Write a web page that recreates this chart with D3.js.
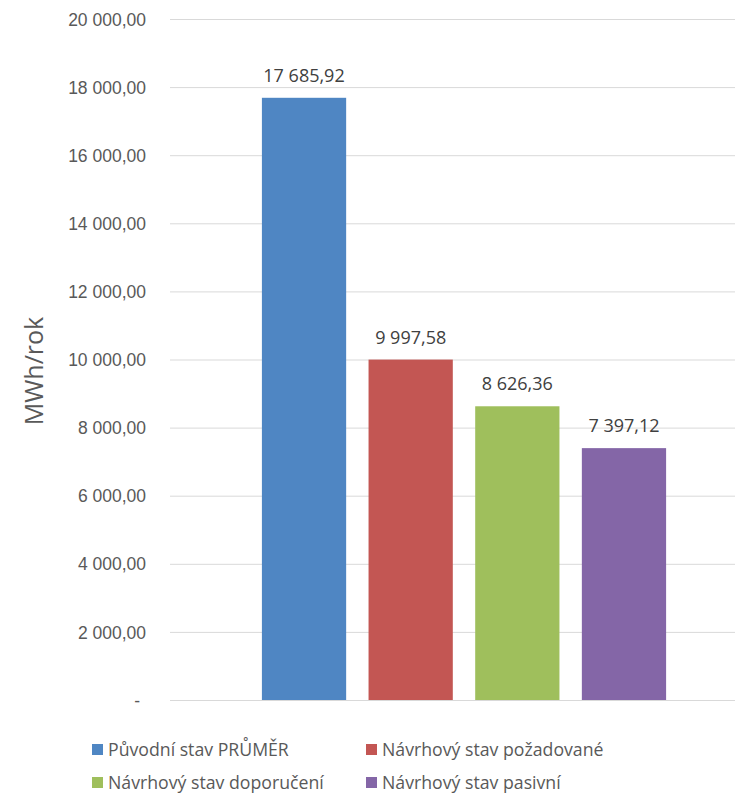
<!DOCTYPE html>
<html>
<head>
<meta charset="utf-8">
<script src="https://cdn.jsdelivr.net/npm/d3@7"></script>
<style>
  body { margin: 0; background: #fff; }
  svg { display: block; font-family: "Open Sans", sans-serif; }
</style>
</head>
<body>
<svg id="chart" width="735" height="798"></svg>
<script>
// Annual energy demand by building state
const series = ["Původní stav PRŮMĚR", "Návrhový stav požadované", "Návrhový stav doporučení", "Návrhový stav pasivní"];
const values = [17685.92, 9997.58, 8626.36, 7397.12];
const colors = ["#4f86c3", "#c35653", "#9fbf5c", "#8466a7"];
const yTicks = [0, 2000, 4000, 6000, 8000, 10000, 12000, 14000, 16000, 18000, 20000];
const yTitle = "MWh/rok";

const svg = d3.select("#chart");

const plotLeft = 170, plotRight = 735, plotTop = 19, plotBottom = 700;

const y = d3.scaleLinear().domain([0, 20000]).range([plotBottom, plotTop]);
const x = d3.scaleBand().domain(series).range([250.7, 677.3]).paddingInner(0.21).paddingOuter(0.105);

// Czech number format: space as thousands separator, comma decimal
const cz = d3.formatLocale({ decimal: ",", thousands: "\u00a0", grouping: [3], currency: ["", " Kč"] });
const fmt = cz.format(",.2f");
const tickFmt = v => v === 0 ? "-" : fmt(v);

// Gridlines and tick labels
const yAxis = d3.axisLeft(y).tickValues(yTicks).tickSize(-(plotRight - plotLeft)).tickPadding(24).tickFormat(tickFmt);
const gy = svg.append("g").attr("transform", `translate(${plotLeft},0)`).call(yAxis);
gy.select(".domain").remove();
gy.selectAll(".tick line").attr("stroke", "#d9d9d9").attr("stroke-width", 1);
gy.selectAll(".tick text").attr("fill", "#595959").style("font-size", "17.5px").attr("dy", "0.35em");
gy.selectAll(".tick text").filter(d => d === 0).attr("dx", "-6");

// Bars
svg.append("g").selectAll("rect").data(series).join("rect")
  .attr("x", d => x(d))
  .attr("width", x.bandwidth())
  .attr("y", (d, i) => y(values[i]))
  .attr("height", (d, i) => y(0) - y(values[i]))
  .attr("fill", (d, i) => colors[i]);

// Value labels
svg.append("g").selectAll("text").data(series).join("text")
  .attr("x", d => x(d) + x.bandwidth() / 2)
  .attr("y", (d, i) => y(values[i]) - 16)
  .attr("text-anchor", "middle")
  .attr("fill", "#404040")
  .style("font-size", "18px")
  .text((d, i) => fmt(values[i]));

// Axis title
svg.append("text")
  .attr("transform", "translate(43,371) rotate(-90)")
  .attr("text-anchor", "middle")
  .attr("fill", "#595959")
  .style("font-size", "25px")
  .text(yTitle);

// Legend
const legendPos = [[92, 750], [366, 750], [92, 783], [366, 783]];
const lg = svg.append("g").selectAll("g").data(series).join("g")
  .attr("transform", (d, i) => `translate(${legendPos[i][0]},${legendPos[i][1]})`);
lg.append("rect").attr("x", 0).attr("y", -6).attr("width", 11).attr("height", 11)
  .attr("fill", (d, i) => colors[i]);
lg.append("text").attr("x", 16).attr("y", 0).attr("dy", "0.35em")
  .attr("fill", "#595959").style("font-size", "17.7px")
  .text(d => d);
</script>
</body>
</html>
